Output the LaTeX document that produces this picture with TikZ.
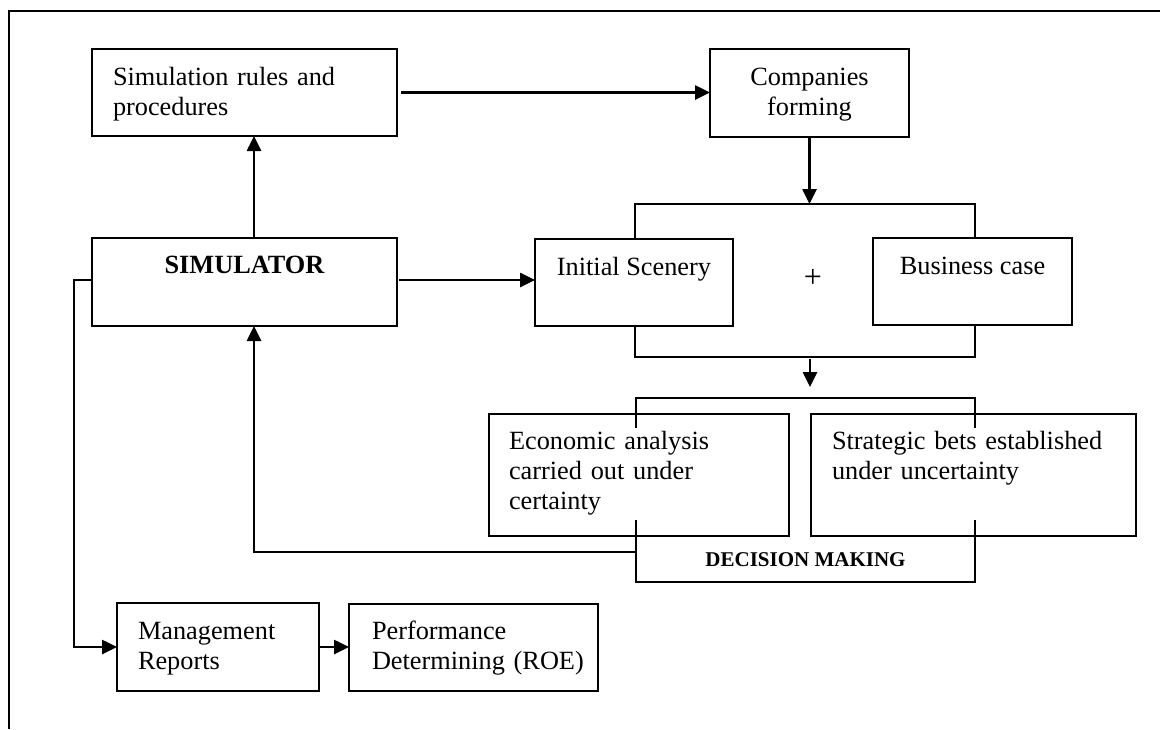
\documentclass[tikz,border=0pt]{standalone}
\usepackage{fontspec}
\setmainfont{Liberation Serif}
\usetikzlibrary{arrows.meta}
\begin{document}
\begin{tikzpicture}[x=1pt,y=-1pt,
  box/.style={draw, line width=1.6pt, inner sep=0pt, outer sep=0pt},
  conn/.style={line width=2.6pt},
  arr/.style={conn, -{Triangle[length=15pt,width=14pt]}},
  frame/.style={line width=1.6pt},
  txt/.style={inner sep=0pt, outer sep=0pt, font=\fontsize{26.3}{30}\selectfont},
  ltxt/.style={txt, align=left, anchor=base west},
  ctxt/.style={txt, align=center, anchor=base}]
\useasboundingbox (0,0) rectangle (1160,729);
\coordinate (fr1) at (9,729);
\coordinate (fr2) at (9,11);
\coordinate (fr3) at (1160,11);
\draw[frame] (fr1) -- (fr2) -- (fr3);

% boxes
\node[box, minimum width=305pt, minimum height=87pt] (rules) at (244.5,92.5) {};
\node[box, minimum width=199pt, minimum height=88pt] (comp) at (809.5,93) {};
\node[box, minimum width=305pt, minimum height=88pt] (sim) at (244.5,282) {};
\node[box, minimum width=198pt, minimum height=87pt] (init) at (634,282.5) {};
\node[box, minimum width=199pt, minimum height=87pt] (bus) at (972.5,281.5) {};
\node[box, minimum width=300pt, minimum height=122pt] (econ) at (639,475) {};
\node[box, minimum width=325pt, minimum height=122pt] (strat) at (973.5,475) {};
\node[box, minimum width=202pt, minimum height=88pt] (mgmt) at (218,647) {};
\node[box, minimum width=249pt, minimum height=87pt] (perf) at (473.5,647.5) {};

% texts
\node[ltxt, text width=280pt] (rulesT) at (113,85) {Simulation rules and\\procedures};
\node[ctxt, text width=190pt] (compT) at (809.5,85) {Companies\\forming};
\node[ctxt] (simT) at (244.5,273) {\bfseries SIMULATOR};
\node[ctxt] (initT) at (634,275) {Initial Scenery};
\node[ctxt] (busT) at (972.5,274) {Business case};
\node[ctxt, font=\fontsize{32}{34}\selectfont] (plusT) at (813,287) {+};
\node[ltxt, text width=275pt] (econT) at (509,449) {Economic analysis\\carried out under\\certainty};
\node[ltxt, text width=300pt] (stratT) at (832,449) {Strategic bets established\\under uncertainty};
\node[ctxt, font=\fontsize{21}{24}\selectfont\bfseries] (decT) at (805.5,566) {DECISION MAKING};
\node[ltxt, text width=180pt] (mgmtT) at (138,639) {Management\\Reports};
\node[ltxt, text width=225pt] (perfT) at (372,639) {Performance\\Determining (ROE)};

% connectors
\draw[arr] ([xshift=4pt]rules.east) -- (rules.east -| comp.west);
\draw[arr] ([xshift=9.5pt]sim.north) -- ([xshift=9.5pt]rules.south);
\draw[arr] ([xshift=2pt,yshift=2pt]sim.east) -- ([yshift=2pt]sim.east -| init.west);

\coordinate (tbl) at (635,204);
\coordinate (tbr) at (975,204);
\draw[arr] (comp.south) -- (comp.south |- tbl);
\draw[conn] (init.north -| tbl) -- (tbl) -- (tbr) -- (bus.north -| tbr);

\coordinate (lbl) at (635,357);
\coordinate (lbr) at (975,357);
\draw[conn] (init.south -| lbl) -- (lbl) -- (lbr) -- (bus.south -| lbr);

\coordinate (ds) at (810,359);
\coordinate (de) at (810,387);
\draw[arr] (ds) -- (de);

\coordinate (dt1) at (636,428);
\coordinate (dt2) at (636,398);
\coordinate (dt3) at (975,398);
\coordinate (dt4) at (975,428);
\draw[conn] (dt1) -- (dt2) -- (dt3) -- (dt4);

\coordinate (db1) at (636,520);
\coordinate (db2) at (636,582);
\coordinate (db3) at (975,582);
\coordinate (db4) at (975,520);
\draw[conn] (db1) -- (db2) -- (db3) -- (db4);

\coordinate (fb) at (636,552);
\draw[arr] (fb) -| ([xshift=9.5pt]sim.south);

\coordinate (ml) at (74,280);
\draw[arr] ([yshift=2pt]sim.west) -- (ml) |- (mgmt.west);
\draw[arr] (mgmt.east) -- (mgmt.east -| perf.west);
\end{tikzpicture}
\end{document}
